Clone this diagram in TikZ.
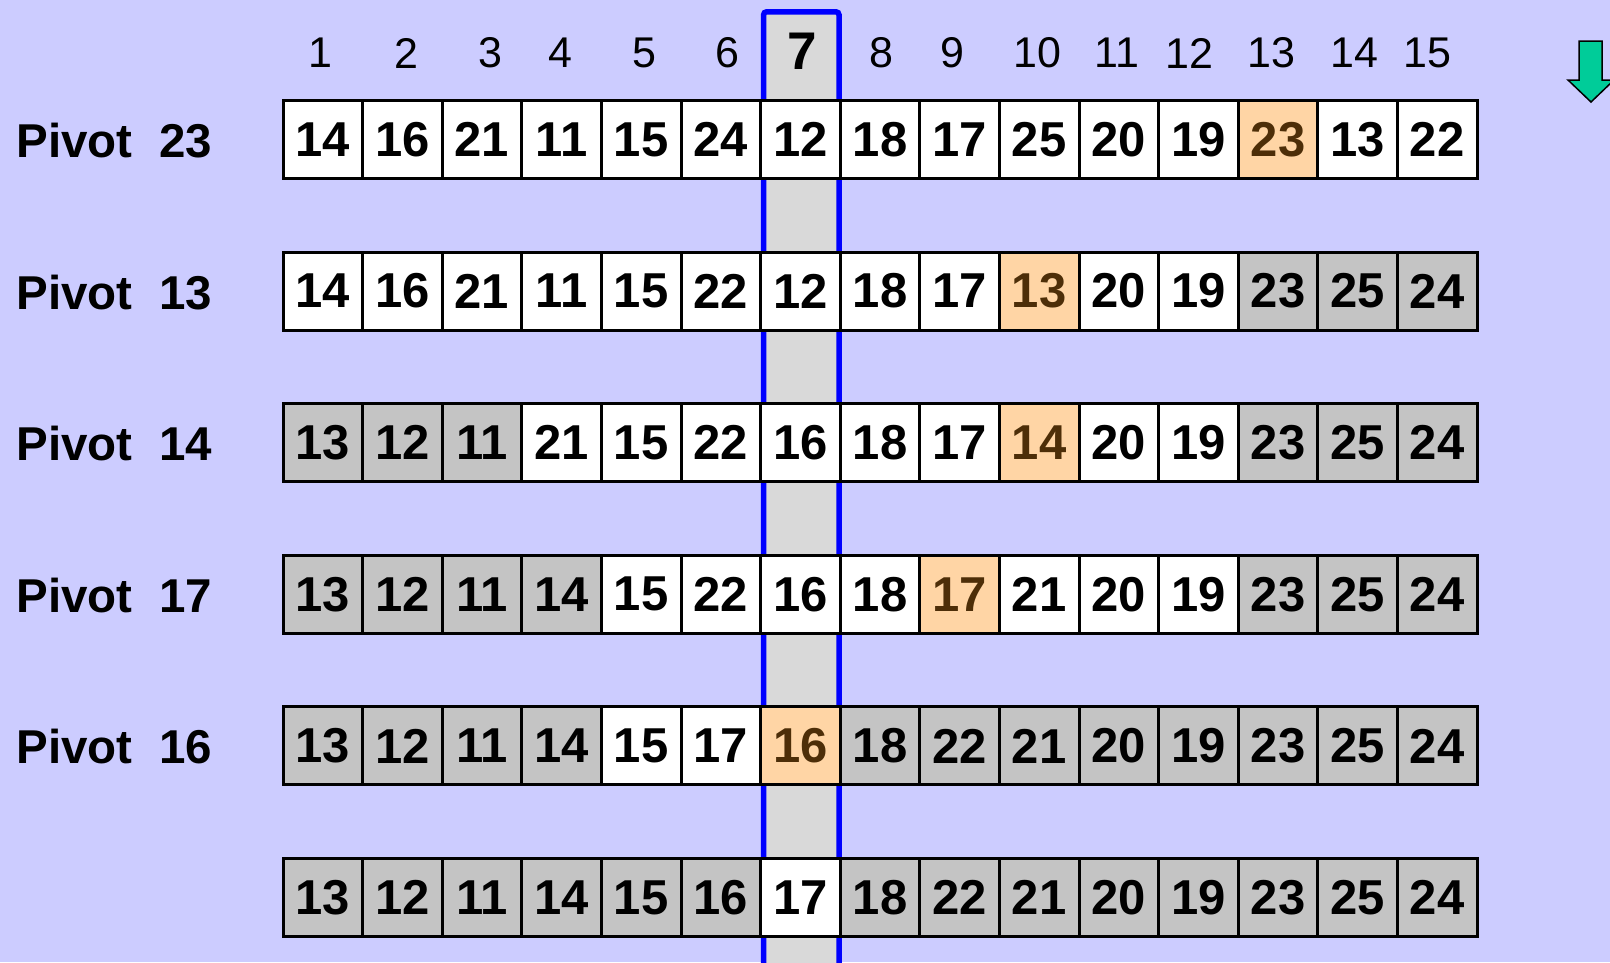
\documentclass[tikz,border=0pt]{standalone}
\usepackage{fontspec}
\setmainfont{Liberation Sans}
\usepackage{tikz}
\usetikzlibrary{positioning}
\definecolor{fundoLilas}{RGB}{204,204,255}
\definecolor{colAzul}   {RGB}{0,  0,  255}
\definecolor{colCinza}  {RGB}{217,217,217}
\definecolor{cellw}     {RGB}{255,255,255}
\definecolor{cellg}     {RGB}{196,196,196}
\definecolor{cello}     {RGB}{255,213,165}
\definecolor{txtw}      {RGB}{0,  0,  0}
\definecolor{txtg}      {RGB}{0,  0,  0}
\definecolor{txto}      {RGB}{77, 46, 8}
\definecolor{setaVerde} {RGB}{0,  204,153}

\begin{document}
\begin{tikzpicture}[x=1pt,y=-1pt,
    celula/.style={draw=black,line width=3pt,minimum width=79.6pt,
      minimum height=78pt,inner sep=0pt,
      font=\fontsize{49}{49}\selectfont\bfseries},
    indice/.style={font=\fontsize{43}{43}\selectfont},
    rotulo/.style={anchor=west,font=\fontsize{47.5}{47.5}\selectfont\bfseries}]
        % Fundo
        \fill[fundoLilas] (0,0) rectangle (1610,962);
        \useasboundingbox (0,0) rectangle (1610,962);
        \clip (0,0) rectangle (1610,962);

        % Coluna 7
        \draw[fill=colCinza,draw=colAzul,line width=5.5pt,rounded corners=3pt]
          (763.6,11.8) rectangle (839.0,1000);

        % Indices
        \foreach \n/\x in {1/320, 2/406, 3/490, 4/560, 5/644, 6/727,
                           8/881, 9/952, 10/1037, 11/1117, 12/1189,
                           13/1271, 14/1354, 15/1427}{
          \node[indice] (i\n) at (\x,53){\n};
        }
        \node[indice,font=\fontsize{53}{53}\selectfont\bfseries] (i7) at (802,51){7};

        % Linhas
        \foreach \r/\lista in {
          1/{14/w,16/w,21/w,11/w,15/w,24/w,12/w,18/w,17/w,25/w,20/w,19/w,23/o,13/w,22/w},
          2/{14/w,16/w,21/w,11/w,15/w,22/w,12/w,18/w,17/w,13/o,20/w,19/w,23/g,25/g,24/g},
          3/{13/g,12/g,11/g,21/w,15/w,22/w,16/w,18/w,17/w,14/o,20/w,19/w,23/g,25/g,24/g},
          4/{13/g,12/g,11/g,14/g,15/w,22/w,16/w,18/w,17/o,21/w,20/w,19/w,23/g,25/g,24/g},
          5/{13/g,12/g,11/g,14/g,15/w,17/w,16/o,18/g,22/g,21/g,20/g,19/g,23/g,25/g,24/g},
          6/{13/g,12/g,11/g,14/g,15/g,16/g,17/w,18/g,22/g,21/g,20/g,19/g,23/g,25/g,24/g}}{
          \pgfmathsetmacro\yc{139.5+151.6*(\r-1)}
          \foreach \val/\tp [count=\col] in \lista{
            \node[celula,fill=cell\tp,text=txt\tp] (c\r-\col)
              at ({283+79.6*(\col-0.5)},\yc){\val};
          }
        }

        % Rotulos
        \foreach \r/\p in {1/23, 2/13, 3/14, 4/17, 5/16}{
          \node[rotulo] (p\r) at (13,{140.5+151.6*(\r-1)}){Pivot~~\p};
        }

        % Seta verde
        \draw[fill=setaVerde,draw=black,line width=1.5pt]
          (1579,41)--(1602,41)--(1602,80)--(1614,80)--(1591,102)
          --(1568,80)--(1579,80)--cycle;
      \end{tikzpicture}
\end{document}
